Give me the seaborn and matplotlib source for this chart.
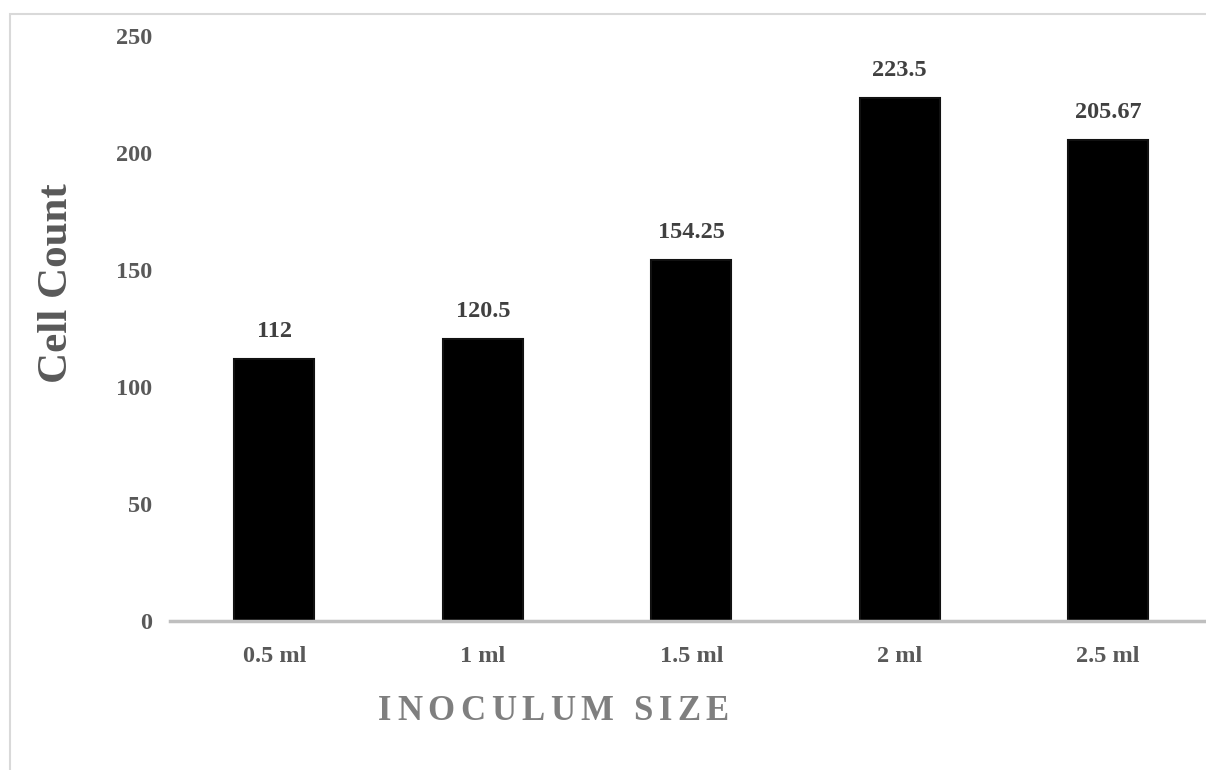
import pandas as pd
import seaborn as sns
import matplotlib.pyplot as plt
from matplotlib.patches import Rectangle

# data
sizes = ['0.5 ml', '1 ml', '1.5 ml', '2 ml', '2.5 ml']
counts = [112, 120.5, 154.25, 223.5, 205.67]
count_labels = ['112', '120.5', '154.25', '223.5', '205.67']
y_ticks = [0, 50, 100, 150, 200, 250]

df = pd.DataFrame({'size': sizes, 'count': counts})

sns.set_style('white')
plt.rcParams['font.family'] = ['Liberation Serif', 'DejaVu Serif']
plt.rcParams['font.weight'] = 'bold'

fig = plt.figure(figsize=(12.06, 7.70), dpi=100)
# light gray outer frame, cut at the right and bottom like the reference
fig.patches.append(Rectangle((10 / 1206, -0.1), 1.2, 0.1 + (770 - 14) / 770,
                             transform=fig.transFigure, fill=False,
                             edgecolor='#d9d9d9', linewidth=1.5))

ax = fig.add_axes([170 / 1206, 149 / 770, 1042.5 / 1206, 585 / 770])
sns.barplot(data=df, x='size', y='count', color='black', saturation=1,
            width=0.385, edgecolor='#111111', linewidth=1.5, ax=ax)

for i, (v, t) in enumerate(zip(counts, count_labels)):
    ax.annotate(t, (i, v), xytext=(0, 12), textcoords='offset points',
                ha='center', va='bottom', fontsize=17.5, fontweight='bold',
                color='#404040')

ax.set_ylim(0, 250)
ax.set_xlim(-0.5, 4.5)
ax.set_yticks(y_ticks)
ax.tick_params(axis='y', length=0, pad=13, labelsize=17.5, labelcolor='#595959')
ax.tick_params(axis='x', length=0, pad=18, labelsize=17.5, labelcolor='#595959')
for lab in ax.get_xticklabels() + ax.get_yticklabels():
    lab.set_fontweight('bold')
ax.set_xlabel('')
ax.set_ylabel('')
for s in ['top', 'right', 'left']:
    ax.spines[s].set_visible(False)
ax.spines['bottom'].set_color('#bfbfbf')
ax.spines['bottom'].set_linewidth(2.5)

fig.text(57 / 1206, 1 - 283 / 770, 'Cell Count', rotation=90, ha='center',
         va='center', fontsize=31, fontweight='bold', color='#595959')

# letter-spaced x title, placed one glyph at a time
title = 'INOCULUM SIZE'
fig.canvas.draw()
renderer = fig.canvas.get_renderer()
x_px = 378
y_frac = 1 - 711 / 770
gap = 5.5
for ch in title:
    if ch == ' ':
        x_px += 9 + gap
        continue
    t = fig.text(x_px / 1206, y_frac, ch, ha='left', va='center', fontsize=25,
                 fontweight='bold', color='#7f7f7f')
    w = t.get_window_extent(renderer).width
    x_px += w + gap

fig.savefig('out.png', dpi=100)
